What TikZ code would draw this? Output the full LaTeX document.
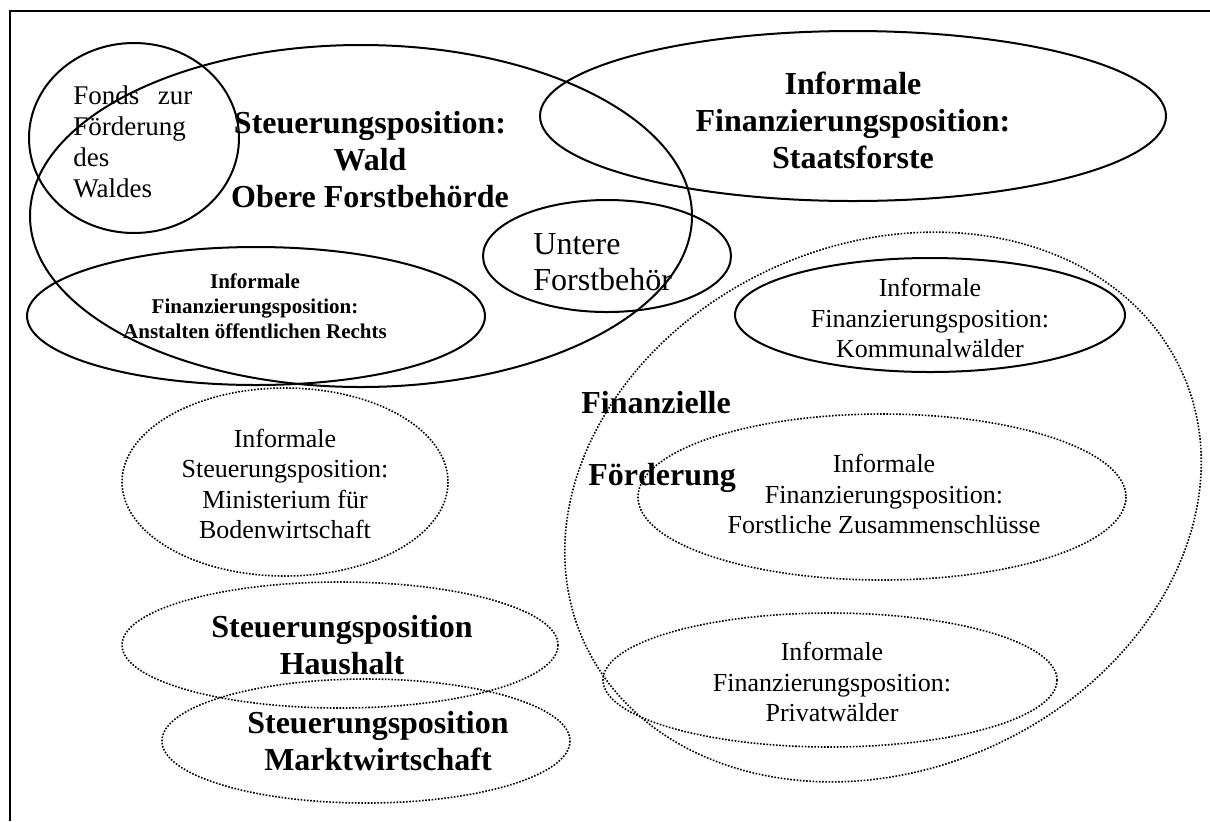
\documentclass[tikz,border=0pt]{standalone}
\usepackage{fontspec}
\setmainfont{Liberation Serif}
\begin{document}
\begin{tikzpicture}[x=0.5pt,y=-0.5pt,
  solid line/.style={line width=1pt},
  dot line/.style={line width=0.8pt, dash pattern=on 0.8pt off 0.8pt},
  bigtitle/.style={font=\fontsize{16}{18.5}\selectfont\bfseries, align=center, inner sep=0pt},
  plain/.style={font=\fontsize{13}{15.3}\selectfont, align=center, inner sep=0pt},
  small bold/.style={font=\fontsize{10.5}{12.5}\selectfont\bfseries, align=center, inner sep=0pt}]
\useasboundingbox (0,0) rectangle (1210,821);

% frame (top and left edges only)
\draw[line width=1pt] (10,821) -- (10,11) -- (1210,11);

% solid ellipses
\draw[solid line] (361,216) ellipse [x radius=331, y radius=171];   % Wald
\draw[solid line] (134,138) ellipse [x radius=105, y radius=95];    % Fonds
\draw[solid line] (853,116) ellipse [x radius=313, y radius=85];    % Staatsforste
\draw[solid line] (607,256) ellipse [x radius=124, y radius=56];    % Untere Forstbehoerde
\draw[solid line] (256,316) ellipse [x radius=229, y radius=69];    % Anstalten
\draw[solid line] (930,315) ellipse [x radius=195, y radius=57];    % Kommunalwaelder

% dotted ellipses
\draw[dot line, rotate around={24:(883,507)}] (883,507) ellipse [x radius=328, y radius=263]; % Finanzielle Foerderung
\draw[dot line] (285,482) ellipse [x radius=163, y radius=94];      % Ministerium
\draw[dot line] (340,645) ellipse [x radius=218, y radius=63];      % Haushalt
\draw[dot line] (366,741) ellipse [x radius=204, y radius=62];      % Marktwirtschaft
\draw[dot line] (882,497) ellipse [x radius=244, y radius=83];      % Zusammenschluesse
\draw[dot line] (830,680) ellipse [x radius=227, y radius=67];      % Privatwaelder

% labels
\node[font=\fontsize{13.5}{15.4}\selectfont, align=left, inner sep=0pt, text width=59.5pt, anchor=west]
  (fonds) at (73,142) {\makebox[59.5pt][l]{Fonds\hfill zur}\\Förderung\\des\\Waldes};
\node[bigtitle] (wald) at (370,160) {Steuerungsposition:\\Wald\\Obere Forstbehörde};
\node[bigtitle] (staat) at (853,120) {Informale\\Finanzierungsposition:\\Staatsforste};
\node[font=\fontsize{16}{18}\selectfont, align=left, inner sep=0pt, anchor=west]
  (untere) at (533,262) {Untere\\Forstbehör};
\node[small bold] (anst) at (255,306) {Informale\\Finanzierungsposition:\\Anstalten öffentlichen Rechts};
\node[plain] (komm) at (930,318) {Informale\\Finanzierungsposition:\\Kommunalwälder};
\node[plain] (mini) at (285,484) {Informale\\Steuerungsposition:\\Ministerium für\\Bodenwirtschaft};
\node[bigtitle, anchor=west] (fin1) at (581,403) {Finanzielle};
\node[bigtitle, anchor=west] (fin2) at (588,478) {Förderung};
\node[plain] (zus) at (884,494) {Informale\\Finanzierungsposition:\\Forstliche Zusammenschlüsse};
\node[plain] (priv) at (832,682) {Informale\\Finanzierungsposition:\\Privatwälder};
\node[bigtitle] (haus) at (342,645) {Steuerungsposition\\Haushalt};
\node[bigtitle] (markt) at (378,741) {Steuerungsposition\\Marktwirtschaft};
\end{tikzpicture}
\end{document}
